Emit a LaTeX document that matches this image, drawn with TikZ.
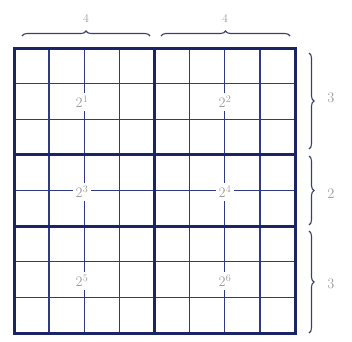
\documentclass[tikz,border=0pt]{standalone}
\usepackage{tikz}
\usetikzlibrary{decorations.pathreplacing}
\definecolor{gridblue}{HTML}{2E3A86}
\definecolor{darkblue}{HTML}{1C2468}
\definecolor{labgray}{HTML}{9C9C9C}

\begin{document}
\begin{tikzpicture}[x=1pt, y=-1pt, every node/.style={font=\large, text=labgray}]
  \tikzstyle{cellline}=[draw=gridblue, line width=1.3pt]
  \tikzstyle{blockline}=[draw=darkblue, line width=3pt]
  \tikzstyle{brc}=[draw=darkblue!70!gray, line width=1.1pt, decorate, decoration={brace, amplitude=5pt}]
  \tikzstyle{lbl}=[fill=white, inner sep=3pt, font=\Large]
  \useasboundingbox (0,0) rectangle (352,341);
  % cells
  \foreach \i in {1,...,7} {
    \draw[cellline] ({14+\i*35.125},48) -- ({14+\i*35.125},333);
    \draw[cellline] (14,{48+\i*35.625}) -- (295,{48+\i*35.625});
  }
  % block labels
  \node[lbl] (bl1) at (82,102) {$2^{1}$};
  \node[lbl] (bl2) at (225,102) {$2^{2}$};
  \node[lbl] (bl3) at (82,192) {$2^{3}$};
  \node[lbl] (bl4) at (225,192) {$2^{4}$};
  \node[lbl] (bl5) at (82,281) {$2^{5}$};
  \node[lbl] (bl6) at (225,281) {$2^{6}$};
  % blocks
  \draw[blockline] (154.5,48) -- (154.5,333);
  \draw[blockline] (14,154.9) -- (295,154.9);
  \draw[blockline] (14,226.1) -- (295,226.1);
  \draw[blockline] (14,48) rectangle (295,333);
  % braces
  \draw[brc] (22,36) -- (150,36);
  \draw[brc] (161,36) -- (290,36);
  \node (top1) at (86,18) {4};
  \node (top2) at (225,18) {4};
  \draw[brc] (309,53) -- (309,149);
  \draw[brc] (309,156) -- (309,225);
  \draw[brc] (309,231) -- (309,333);
  \node[font=\Large] (side1) at (331,98) {3};
  \node[font=\Large] (side2) at (331,194) {2};
  \node[font=\Large] (side3) at (331,284) {3};
\end{tikzpicture}
\end{document}
